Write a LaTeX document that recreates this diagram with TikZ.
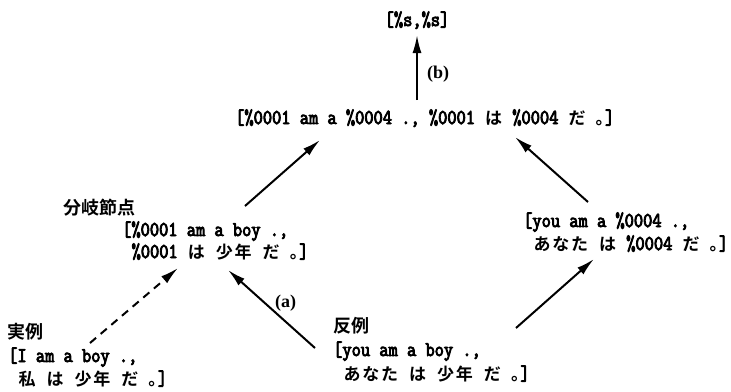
\documentclass[tikz,border=0pt]{standalone}
\usepackage{fontspec}
\usetikzlibrary{arrows.meta}
\newfontfamily\lat[FakeBold=4,FakeStretch=0.853]{Latin Modern Mono}
\newfontfamily\tagfont{Liberation Serif Bold}
\newfontfamily\cjk{Noto Sans CJK JP Bold}
\newcommand\J[1]{\makebox[18.8pt][c]{\cjk\fontsize{17}{17}\selectfont #1}}
\newcommand\Jd{\makebox[9.4pt][l]{\cjk\fontsize{17}{17}\selectfont 。}}
\newcommand\ind{\hspace*{9.4pt}}
\tikzset{
  txt/.style={font=\lat\fontsize{21}{22}\selectfont, inner sep=0pt, anchor=base west},
  tag/.style={font=\tagfont\fontsize{18}{18}\selectfont, inner sep=0pt, anchor=base west},
  lbl/.style={font=\cjk\fontsize{18}{18}\selectfont, inner sep=0pt, anchor=base west},
  arr/.style={line width=2pt, -{Latex[length=18pt,width=9pt]}},
  dasharr/.style={arr, dash pattern=on 8pt off 6pt},
}
\begin{document}
\begin{tikzpicture}[x=1pt,y=-1pt]
\useasboundingbox (0,0) rectangle (731,391);
% texts
\node[txt, anchor=base] (top) at (417,26) {[\%s,\%s]};
\node[tag] (b) at (427,78) {(b)};
\node[txt] (main) at (235,124) {[\%0001 am a \%0004 ., \%0001 \J{は} \%0004 \J{だ} \Jd]};
\node[lbl] (bunki) at (63,214) {分岐節点};
\node[txt] (l1) at (122,236) {[\%0001 am a boy .,};
\node[txt] (l2) at (122,258) {\ind\%0001 \J{は} \J{少}\J{年} \J{だ} \Jd]};
\node[txt] (r1) at (523,227) {[you am a \%0004 .,};
\node[txt] (r2) at (523,250) {\ind\J{あ}\J{な}\J{た} \J{は} \%0004 \J{だ} \Jd]};
\node[tag] (a) at (275,307) {(a)};
\node[lbl] (jitsu) at (7,338) {実例};
\node[txt] (bl1) at (8,362) {[I am a boy .,};
\node[txt] (bl2) at (8,385) {\ind\J{私} \J{は} \J{少}\J{年} \J{だ} \Jd]};
\node[lbl] (han) at (333,332) {反例};
\node[txt] (br1) at (333,356) {[you am a boy .,};
\node[txt] (br2) at (333,380) {\ind\J{あ}\J{な}\J{た} \J{は} \J{少}\J{年} \J{だ} \Jd]};
% arrows
\draw[arr] ([xshift=182pt,yshift=24pt]main.base west) -- ([yshift=-9pt]top.base);
\draw[arr] ([xshift=123pt,yshift=30pt]l1.base west) -- ([xshift=85pt,yshift=-16pt]main.base west);
\draw[arr] ([xshift=65pt,yshift=25pt]r1.base west) -- ([xshift=280pt,yshift=-13pt]main.base west);
\draw[dasharr] ([xshift=82pt,yshift=19pt]bl1.base west) -- ([xshift=56pt,yshift=-10pt]l2.base west);
\draw[arr] ([xshift=-18pt,yshift=8pt]br1.base west) -- ([xshift=106pt,yshift=-12pt]l2.base west);
\draw[arr] ([xshift=183pt,yshift=28pt]br1.base west) -- ([xshift=71pt,yshift=-9pt]r2.base west);
\end{tikzpicture}
\end{document}
